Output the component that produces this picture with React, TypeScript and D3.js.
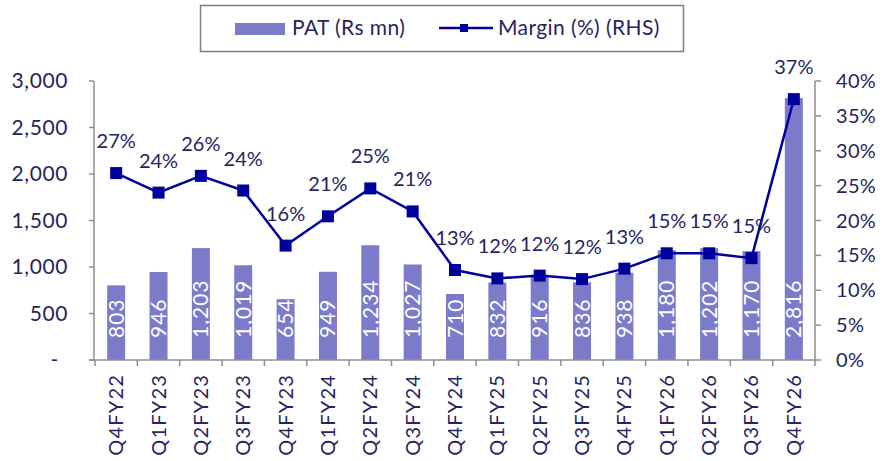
import React from "react";
import * as d3 from "d3";

const categories = ["Q4FY22","Q1FY23","Q2FY23","Q3FY23","Q4FY23","Q1FY24","Q2FY24","Q3FY24","Q4FY24","Q1FY25","Q2FY25","Q3FY25","Q4FY25","Q1FY26","Q2FY26","Q3FY26","Q4FY26"];
const patValues = [803,946,1203,1019,654,949,1234,1027,710,832,916,836,938,1180,1202,1170,2816];
const marginValues = [26.8,24.0,26.4,24.3,16.4,20.6,24.6,21.3,12.9,11.7,12.1,11.6,13.1,15.3,15.3,14.6,37.4];
const leftTicks = [0,500,1000,1500,2000,2500,3000];
const rightTicks = [0,5,10,15,20,25,30,35,40];
const legendLabels = ["PAT (Rs mn)", "Margin (%) (RHS)"];

const W = 890, H = 461;
const L = 95, R = 815, T = 81, B = 360;
const FONT = "Lato, 'Liberation Sans', sans-serif";
const TXT = "#27245e";
const BAR = "#7b7bc9";
const LINE = "#00009c";
const AX = "#8f8f8f";

export default function App() {
  const x = d3.scaleBand<string>().domain(categories).range([L, R]).paddingInner(0).paddingOuter(0);
  const bw = 18;
  const yL = d3.scaleLinear().domain([0, 3000]).range([B, T]);
  const yR = d3.scaleLinear().domain([0, 40]).range([B, T]);
  const cx = (c: string) => (x(c) as number) + x.bandwidth() / 2;
  const fmt = d3.format(",");
  const line = d3.line<number>().x((_, i) => cx(categories[i])).y((d) => yR(d));

  return (
    <svg width={W} height={H} style={{ position: "absolute", left: 0, top: 0, background: "#fff" }} fontFamily={FONT}>
      {/* legend */}
      <rect x={200.5} y={5.5} width={483} height={46} fill="#fff" stroke="#7f7f7f" strokeWidth={1.5} />
      <rect x={235} y={23} width={50} height={12} fill={BAR} />
      <text x={292} y={35} fontSize={21} letterSpacing={0.4} fill={TXT}>{legendLabels[0]}</text>
      <line x1={439} x2={493} y1={28} y2={28} stroke={LINE} strokeWidth={2.5} />
      <rect x={460} y={24} width={8} height={8} fill={LINE} />
      <text x={498} y={35} fontSize={21} letterSpacing={0.4} fill={TXT}>{legendLabels[1]}</text>

      {/* bars */}
      {patValues.map((v, i) => (
        <rect key={"b" + i} x={cx(categories[i]) - bw / 2} y={yL(v)} width={bw} height={B - yL(v)} fill={BAR} />
      ))}
      {patValues.map((v, i) => (
        <text key={"bl" + i} transform={`translate(${cx(categories[i]) + 7.5},${B - 22}) rotate(-90)`} fontSize={21} letterSpacing={1} fill="#fff">{fmt(v)}</text>
      ))}

      {/* axes */}
      <line x1={94} x2={94} y1={T} y2={B} stroke={AX} strokeWidth={1.5} />
      {leftTicks.map((t) => (
        <g key={"lt" + t}>
          <line x1={89} x2={94} y1={yL(t)} y2={yL(t)} stroke={AX} strokeWidth={1.5} />
          <text x={t === 0 ? 59 : 68} y={yL(t) + 7} fontSize={21} letterSpacing={0.6} fill={TXT} textAnchor="end">{t === 0 ? "-" : fmt(t)}</text>
        </g>
      ))}
      <line x1={R} x2={R} y1={T} y2={B} stroke={AX} strokeWidth={1.5} />
      {rightTicks.map((t) => (
        <g key={"rt" + t}>
          <line x1={R} x2={R + 6} y1={yR(t)} y2={yR(t)} stroke={AX} strokeWidth={1.5} />
          <text x={836} y={yR(t) + 7} fontSize={20} letterSpacing={0.3} fill={TXT}>{t + "%"}</text>
        </g>
      ))}
      <line x1={89} x2={R} y1={B} y2={B} stroke={AX} strokeWidth={1.5} />
      {categories.map((c) => (
        <line key={"xt" + c} x1={x(c) as number} x2={x(c) as number} y1={B} y2={B + 6} stroke={AX} strokeWidth={1.5} />
      ))}
      <line x1={R} x2={R} y1={B} y2={B + 6} stroke={AX} strokeWidth={1.5} />
      {categories.map((c) => (
        <text key={"xl" + c} transform={`translate(${cx(c) + 7},${B + 14}) rotate(-90)`} fontSize={20} letterSpacing={1.2} fill={TXT} textAnchor="end">{c}</text>
      ))}

      {/* line */}
      <path d={line(marginValues) || ""} fill="none" stroke={LINE} strokeWidth={2.5} />
      {marginValues.map((v, i) => (
        <rect key={"m" + i} x={cx(categories[i]) - 6} y={yR(v) - 6} width={12} height={12} fill={LINE} />
      ))}
      {marginValues.map((v, i) => (
        <text key={"ml" + i} x={cx(categories[i])} y={yR(v) - 25} fontSize={20} fill={TXT} textAnchor="middle">{Math.round(v) + "%"}</text>
      ))}
    </svg>
  );
}
